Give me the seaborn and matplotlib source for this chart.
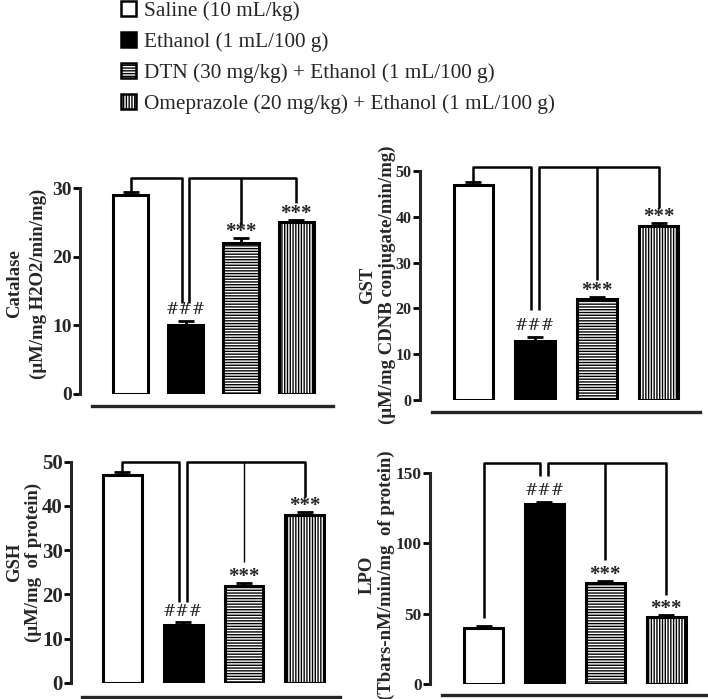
import numpy as np
import seaborn as sns
import matplotlib.pyplot as plt
from matplotlib.patches import Patch

sns.set_style("white")
plt.rcParams['font.family'] = ['Liberation Serif', 'DejaVu Serif']
plt.rcParams['font.weight'] = 'bold'
plt.rcParams['hatch.linewidth'] = 1.0

# groups and legend text
groups = ["Saline", "Ethanol", "DTN", "Omeprazole"]
legend_labels = [
    "Saline (10 mL/kg)",
    "Ethanol (1 mL/100 g)",
    "DTN (30 mg/kg) + Ethanol (1 mL/100 g)",
    "Omeprazole (20 mg/kg) + Ethanol (1 mL/100 g)",
]
fills = ["white", "black", "white", "white"]
hatches = ["", "", "------", "||||||"]

# values (mean, SEM)
catalase = [29, 10, 22, 25]
catalase_err = [0.4, 0.7, 0.7, 0.4]
gst = [47, 13, 22, 38]
gst_err = [0.7, 0.7, 0.5, 0.7]
gsh = [47, 13, 22, 38]
gsh_err = [0.7, 0.7, 0.5, 0.7]
lpo = [40, 128, 72, 48]
lpo_err = [1.0, 1.5, 1.0, 1.0]

# significance marks and bracket geometry (data units)
marks = ["", "###", "***", "***"]
catalase_bracket = 31.5
catalase_drops = [29.4, 13.2, 24.6, 27.8]
gst_bracket = 50.9
gst_drops = [47.7, 19.6, 26.2, 42.0]
gsh_bracket = 50.0
gsh_drops = [47.7, 18.3, 27.4, 42.0]
lpo_bracket = 157
lpo_drops = [47, 148, 88, 63]

W, H = 708, 699
fig = plt.figure(figsize=(W / 100, H / 100), dpi=100)


def px_axes(left, right, top, bottom):
    return fig.add_axes([left / W, 1 - bottom / H, (right - left) / W, (bottom - top) / H])


def panel(ax, vals, errs, drops, level, ylabel, yticks, ylim, xlim, xline, outward,
          label_xy, linesp, tick_size, mid_lw=1.8):
    sns.barplot(x=groups, y=vals, hue=groups, palette=fills, edgecolor="black",
                linewidth=2.2, width=0.64, errorbar=None, legend=False, ax=ax)
    for p, h in zip(ax.patches, hatches):
        p.set_hatch(h)
    ax.errorbar(range(len(vals)), vals, yerr=[np.zeros(len(errs)), errs], fmt="none",
                ecolor="black", elinewidth=2, capsize=6, capthick=2, zorder=5)

    # brackets
    kw = dict(color="black", lw=1.8, solid_capstyle="butt", clip_on=False, zorder=6)
    ax.plot([0, 0, 0.93, 0.93], [drops[0], level, level, drops[1]], **kw)
    ax.plot([1.06, 1.06, 3, 3], [drops[1], level, level, drops[3]], **kw)
    kw["lw"] = mid_lw
    ax.plot([2, 2], [level, drops[2]], **kw)

    for i, (v, e, m) in enumerate(zip(vals, errs, marks)):
        if not m:
            continue
        if m == "###":
            ax.text(i, v + e + (ylim[1] * 0.012), m, ha="center", va="bottom",
                    fontsize=11.5, fontweight="normal", family=["DejaVu Serif"])
        else:
            ax.text(i, v + e - ylim[1] * 0.018, m, ha="center", va="bottom",
                    fontsize=15, fontweight="bold")

    ax.set_xlim(*xlim)
    ax.set_ylim(*ylim)
    ax.set_xticks([])
    ax.set_xlabel("")
    ax.set_yticks(yticks)
    ax.set_yticklabels([str(t) for t in yticks], fontsize=tick_size, fontweight="bold")
    ax.tick_params(axis="y", length=5, width=2, pad=1, left=True, color="black")
    sns.despine(ax=ax, top=True, right=True)
    ax.spines["left"].set_linewidth(2.2)
    ax.spines["left"].set_bounds(yticks[0], yticks[-1])
    ax.spines["bottom"].set_linewidth(2.4)
    ax.spines["bottom"].set_bounds(*xline)
    ax.spines["bottom"].set_position(("outward", outward * 0.72))
    ax.set_ylabel(ylabel, fontsize=13.5, fontweight="bold", linespacing=linesp)
    ax.yaxis.set_label_coords(*label_xy)
    ax.patch.set_alpha(0)


ax1 = px_axes(80, 335, 173, 394)
panel(ax1, catalase, catalase_err, catalase_drops, catalase_bracket,
      "Catalase\n(µM/mg H2O2/min/mg)", [0, 10, 20, 30], (0, 32.2),
      (-0.915, 3.7), (-0.7, 3.67), 12, (-0.13, 0.5), 1.5, 14)

ax2 = px_axes(420, 700, 163, 400)
panel(ax2, gst, gst_err, gst_drops, gst_bracket,
      "GST\n(µM/mg CDNB conjugate/min/mg)", [0, 10, 20, 30, 40, 50], (0, 51.8),
      (-0.866, 3.67), (-0.67, 3.67), 12, (-0.087, 0.485), 1.15, 11.5)

ax3 = px_axes(71, 340, 455, 683)
panel(ax3, gsh, gsh_err, gsh_drops, gsh_bracket,
      "GSH\n(µM/mg  of protein)", [0, 10, 20, 30, 40, 50], (0, 51.5),
      (-0.847, 3.58), (-0.66, 3.58), 14, (-0.108, 0.53), 1.15, 15, mid_lw=1.0)

ax4 = px_axes(430, 707, 459, 684)
panel(ax4, lpo, lpo_err, lpo_drops, lpo_bracket,
      "LPO\n(Tbars-nM/min/mg  of protein)", [0, 50, 100, 150], (0, 160),
      (-0.88, 3.67), (-0.68, 3.67), 11, (-0.125, 0.485), 1.15, 12.5)

handles = [Patch(facecolor=f, edgecolor="black", hatch=h, linewidth=1.8)
           for f, h in zip(fills, hatches)]
fig.legend(handles, legend_labels, loc="upper left", bbox_to_anchor=(121 / W, 1 - 1 / H),
           frameon=False, prop={"weight": "normal", "size": 15.3},
           handlelength=0.7, handleheight=0.7, handletextpad=0.37, labelspacing=0.52,
           borderpad=0.0, borderaxespad=0.0)

fig.savefig("out.png", dpi=100)
